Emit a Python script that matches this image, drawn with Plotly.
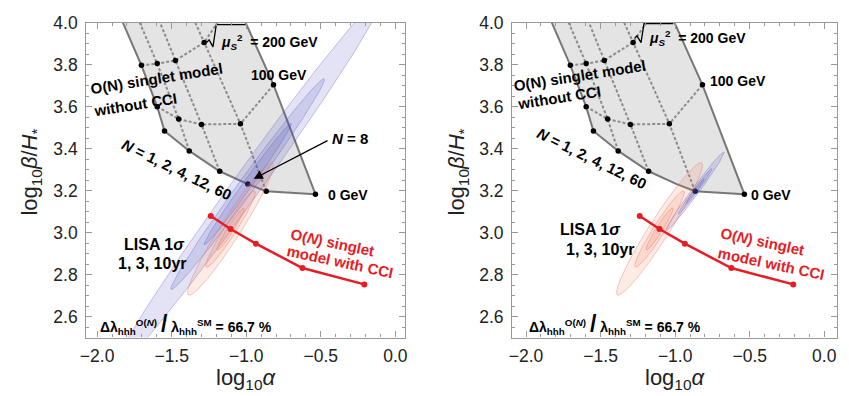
import numpy as np
import plotly.graph_objects as go

# ---- O(N) singlet model without CCI: grid in (log10 alpha, log10 beta/H*) ----
# columns: N = 1, 2, 4, 12, 60 ; rows: sqrt(mu_S^2) = 0, 100, 200 GeV
N_vals = [1, 2, 4, 12, 60]
mu0_x = [-1.548, -1.382, -1.178, -0.866, -0.536]
mu0_y = [3.484, 3.389, 3.292, 3.197, 3.183]
mu100_x = [-1.597, -1.453, -1.300, -1.039, -0.817]
mu100_y = [3.600, 3.541, 3.515, 3.518, 3.704]
mu200_x = [-1.703, -1.597, -1.475, -1.282, -1.080]
mu200_y = [3.797, 3.805, 3.820, 3.906, 4.120]
# constant-N lines where they leave the frame at the top (N = 1, 2, 4, 12)
top_x = [-1.827, -1.714, -1.578, -1.342]
top_y = [4.0, 4.0, 4.0, 4.0]
# N = 8 benchmark on the mu_S = 0 line
N8_x, N8_y = -0.990, 3.231

# ---- O(N) singlet model with CCI ----
cci_x = [-1.238, -1.105, -0.935, -0.623, -0.208]
cci_y = [3.079, 3.017, 2.947, 2.831, 2.753]

# ---- LISA 1 sigma ellipses for 1, 3, 10 yr: (sigma_x, sigma_y, rho) ----
years = [1, 3, 10]
blue_left_sx = [0.905, 0.515, 0.292]
blue_left_sy = [0.891, 0.502, 0.289]
blue_left_rho = [0.992, 0.992, 0.992]
blue_right_sx = [0.195, 0.113, 0.062]
blue_right_sy = [0.187, 0.108, 0.059]
blue_right_rho = [0.988, 0.988, 0.988]
red_sx = [0.288, 0.166, 0.091]
red_sy = [0.315, 0.182, 0.100]
red_rho = [0.960, 0.960, 0.960]

x_ticks = [-2.0, -1.5, -1.0, -0.5, 0.0]
y_ticks = [2.6, 2.8, 3.0, 3.2, 3.4, 3.6, 3.8, 4.0]

FONT = "Liberation Sans"
GRID_DASH = "#8c8c8c"
EDGE = "#777777"
RED = "rgb(232,28,36)"
BLUE_FILL = "rgba(80,80,190,0.16)"
BLUE_LINE = "rgba(80,80,190,0.32)"
RED_FILL = "rgba(240,110,80,0.14)"
RED_LINE = "rgba(240,110,80,0.38)"


def ellipse(cx, cy, sx, sy, rho, n=240):
    cov = np.array([[sx * sx, rho * sx * sy], [rho * sx * sy, sy * sy]])
    L = np.linalg.cholesky(cov)
    t = np.linspace(0, 2 * np.pi, n)
    pts = L @ np.vstack([np.cos(t), np.sin(t)])
    return cx + pts[0], cy + pts[1]


fig = go.Figure()


def add_panel(xa, ya, show_n8, blue_c, blue_sx, blue_sy, blue_rho):
    # bottom line (mu_S = 0) including the N = 8 point
    bx = mu0_x[:3] + [N8_x] + mu0_x[3:]
    by = mu0_y[:3] + [N8_y] + mu0_y[3:]
    # shaded region
    px = [top_x[0], mu200_x[0], mu100_x[0]] + bx + [mu100_x[4], mu200_x[4], top_x[0]]
    py = [top_y[0], mu200_y[0], mu100_y[0]] + by + [mu100_y[4], mu200_y[4], top_y[0]]
    fig.add_trace(go.Scatter(x=px, y=py, xaxis=xa, yaxis=ya, mode="lines", fill="toself",
                             fillcolor="rgb(228,228,228)", line=dict(width=0)))
    dash = dict(color=GRID_DASH, width=2, dash="3px,2px")
    # dashed lines of constant mu_S
    fig.add_trace(go.Scatter(x=mu100_x, y=mu100_y, xaxis=xa, yaxis=ya, mode="lines", line=dash))
    fig.add_trace(go.Scatter(x=mu200_x, y=mu200_y, xaxis=xa, yaxis=ya, mode="lines", line=dash))
    # dashed lines of constant N (N = 2, 4, 12)
    for i in [1, 2, 3]:
        fig.add_trace(go.Scatter(x=[mu0_x[i], mu100_x[i], mu200_x[i], top_x[i]],
                                 y=[mu0_y[i], mu100_y[i], mu200_y[i], top_y[i]],
                                 xaxis=xa, yaxis=ya, mode="lines", line=dash))
    solid = dict(color=EDGE, width=2)
    fig.add_trace(go.Scatter(x=[top_x[0], mu200_x[0], mu100_x[0], mu0_x[0]],
                             y=[top_y[0], mu200_y[0], mu100_y[0], mu0_y[0]],
                             xaxis=xa, yaxis=ya, mode="lines", line=solid))
    fig.add_trace(go.Scatter(x=bx, y=by, xaxis=xa, yaxis=ya, mode="lines", line=solid))
    fig.add_trace(go.Scatter(x=[mu0_x[4], mu100_x[4], mu200_x[4]],
                             y=[mu0_y[4], mu100_y[4], mu200_y[4]],
                             xaxis=xa, yaxis=ya, mode="lines", line=solid))
    # grid points
    dx = mu0_x + mu100_x + mu200_x[:4]
    dy = mu0_y + mu100_y + mu200_y[:4]
    if show_n8:
        dx = dx + [N8_x]
        dy = dy + [N8_y]
    fig.add_trace(go.Scatter(x=dx, y=dy, xaxis=xa, yaxis=ya, mode="markers",
                             marker=dict(color="black", size=5.5)))
    # LISA ellipses
    for k in range(len(years)):
        ex, ey = ellipse(blue_c[0], blue_c[1], blue_sx[k], blue_sy[k], blue_rho[k])
        fig.add_trace(go.Scatter(x=ex, y=ey, xaxis=xa, yaxis=ya, mode="lines", fill="toself",
                                 fillcolor=BLUE_FILL, line=dict(color=BLUE_LINE, width=1)))
    for k in range(len(years)):
        ex, ey = ellipse(cci_x[1], cci_y[1], red_sx[k], red_sy[k], red_rho[k])
        fig.add_trace(go.Scatter(x=ex, y=ey, xaxis=xa, yaxis=ya, mode="lines", fill="toself",
                                 fillcolor=RED_FILL, line=dict(color=RED_LINE, width=1)))
    # with CCI
    fig.add_trace(go.Scatter(x=cci_x, y=cci_y, xaxis=xa, yaxis=ya, mode="lines+markers",
                             line=dict(color=RED, width=2.5), marker=dict(color=RED, size=6)))


add_panel("x", "y", True, (N8_x, N8_y), blue_left_sx, blue_left_sy, blue_left_rho)
add_panel("x2", "y2", False, (mu0_x[3], mu0_y[3]), blue_right_sx, blue_right_sy, blue_right_rho)

W, H = 849, 396
axis_common = dict(showline=True, linecolor="#999999", linewidth=1.2, mirror="ticks",
                   ticks="inside", ticklen=6, tickwidth=1, tickcolor="#999999",
                   showgrid=False, zeroline=False,
                   tickfont=dict(family=FONT, size=17.5, color="#222222"))
xa = dict(axis_common, tickvals=x_ticks, ticktext=["\u22122.0", "\u22121.5", "\u22121.0", "\u22120.5", "0.0"],
          minor=dict(ticks="inside", ticklen=3, dtick=0.1, tick0=0, tickcolor="#999999"),
          ticklabelstandoff=2)
ya = dict(axis_common, tickvals=y_ticks, ticktext=[f"{v:.1f}" for v in y_ticks], range=[2.5, 4.0],
          minor=dict(ticks="inside", ticklen=3, dtick=0.05, tick0=0, tickcolor="#999999"),
          ticklabelstandoff=4)
ydom = [1 - 336 / H, 1 - 13 / H]
fig.update_layout(
    width=W, height=H, margin=dict(l=0, r=0, t=0, b=0),
    paper_bgcolor="white", plot_bgcolor="white", showlegend=False,
    xaxis=dict(xa, domain=[81 / W, 403 / W], range=[-2.073, 0.066], anchor="y"),
    yaxis=dict(ya, domain=ydom, anchor="x"),
    xaxis2=dict(xa, domain=[511 / W, 839 / W], range=[-2.093, 0.086], anchor="y2"),
    yaxis2=dict(ya, domain=ydom, anchor="x2"),
)

B14 = dict(family=FONT, size=14, color="black")
B15 = dict(family=FONT, size=15, color="black")
B16 = dict(family=FONT, size=16, color="black")
R15 = dict(family=FONT, size=15, color=RED)
ann = []


def label(xr, yr, x, y, text, font=B15, angle=0, xanchor="center"):
    ann.append(dict(xref=xr, yref=yr, x=x, y=y, text=text, showarrow=False, font=font,
                    textangle=angle, xanchor=xanchor, yanchor="middle"))


radical_text = "<b><i>\u03bc</i><sub><i>S</i></sub><sup>2</sup>  = 200 GeV</b>"
dl_text = ("<b>\u0394\u03bb<sub>hhh</sub><sup>O(<i>N</i>)</sup> "
           "<span style='font-size:23px'>/</span> \u03bb<sub>hhh</sub><sup>SM</sup> = 66.7 %</b>")

# left panel labels
label("x", "y", -1.604, 3.732, "<b>O(N) singlet model</b>", angle=-9)
label("x", "y", -1.747, 3.611, "<b>without CCI</b>", angle=-9)
label("x", "y", -1.466, 3.301, "<b><i>N</i> = 1, 2, 4, 12, 60</b>", angle=26)
label("x", "y", -0.306, 3.448, "<b><i>N</i> = 8</b>")
label("x", "y", -0.781, 3.749, "<b>100 GeV</b>", font=B14)
label("x", "y", -0.319, 3.177, "<b>0 GeV</b>", font=B14)
label("x", "y", -1.615, 2.941, "<b>LISA 1<i>\u03c3</i></b>", font=B16)
label("x", "y", -1.626, 2.854, "<b>1, 3, 10yr</b>", font=B16)
label("x", "y", -0.419, 2.952, "<b>O(<i>N</i>) singlet</b>", font=R15, angle=12)
label("x", "y", -0.374, 2.864, "<b>model with CCI</b>", font=R15, angle=12)
label("x", "y", -1.991, 2.564, dl_text, xanchor="left", font=B14)
label("x", "y", -1.183, 3.907, radical_text, xanchor="left", font=B14)
ann.append(dict(xref="x", yref="y", axref="x", ayref="y", x=-0.950, y=3.256, ax=-0.445, ay=3.442,
                text="", showarrow=True, arrowhead=2, arrowsize=1.4, arrowwidth=1.3, arrowcolor="black"))

# right panel labels
label("x2", "y2", -1.641, 3.750, "<b>O(N) singlet model</b>", angle=-9)
label("x2", "y2", -1.779, 3.642, "<b>without CCI</b>", angle=-9)
label("x2", "y2", -1.557, 3.352, "<b><i>N</i> = 1, 2, 4, 12, 60</b>", angle=26)
label("x2", "y2", -0.578, 3.722, "<b>100 GeV</b>", font=B14)
label("x2", "y2", -0.355, 3.181, "<b>0 GeV</b>", font=B14)
label("x2", "y2", -1.568, 3.014, "<b>LISA 1<i>\u03c3</i></b>", font=B16)
label("x2", "y2", -1.502, 2.921, "<b>1, 3, 10yr</b>", font=B16)
label("x2", "y2", -0.412, 2.957, "<b>O(<i>N</i>) singlet</b>", font=R15, angle=12)
label("x2", "y2", -0.357, 2.851, "<b>model with CCI</b>", font=R15, angle=12)
label("x2", "y2", -1.994, 2.564, dl_text, xanchor="left", font=B14)
label("x2", "y2", -1.191, 3.929, radical_text, xanchor="left", font=B14)

# radical signs
fig.add_trace(go.Scatter(x=[-1.265, -1.249, -1.223, -1.201, -1.005],
                         y=[3.906, 3.918, 3.885, 3.991, 3.991], xaxis="x", yaxis="y",
                         mode="lines", line=dict(color="black", width=1.3)))
fig.add_trace(go.Scatter(x=[-1.272, -1.256, -1.229, -1.209, -1.013],
                         y=[3.926, 3.937, 3.905, 3.995, 3.995], xaxis="x2", yaxis="y2",
                         mode="lines", line=dict(color="black", width=1.3)))

# axis titles
TF = dict(family=FONT, size=22, color="#222222")
for cx in [(81 + 403) / 2, (511 + 839) / 2]:
    ann.append(dict(xref="paper", yref="paper", x=cx / W, y=1 - 379 / H, showarrow=False,
                    text="log<sub>10</sub><i>\u03b1</i>", font=TF, xanchor="center", yanchor="middle"))
for cx in [25, 456]:
    ann.append(dict(xref="paper", yref="paper", x=cx / W, y=1 - 166 / H, showarrow=False,
                    text="log<sub>10</sub><i>\u03b2</i>/<i>H</i><sub>*</sub>", font=TF,
                    textangle=-90, xanchor="center", yanchor="middle"))

fig.update_layout(annotations=ann)
fig.update_traces(hoverinfo="skip")
fig.write_html("out.html")
